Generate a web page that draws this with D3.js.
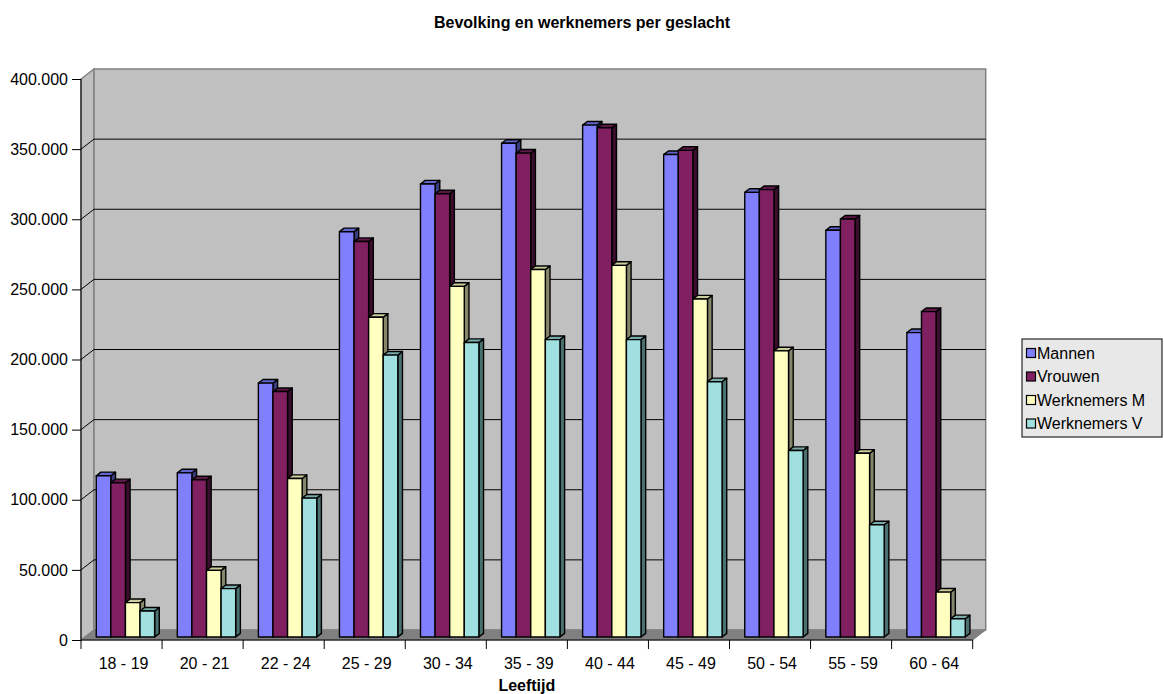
<!DOCTYPE html>
<html>
<head>
<meta charset="utf-8">
<script src="https://cdn.jsdelivr.net/npm/d3@7"></script>
<style>
html,body{margin:0;padding:0;background:#fff;}
svg{display:block;font-family:Arial,"Liberation Sans",sans-serif;}
</style>
</head>
<body>
<svg id="chart" width="1164" height="694"></svg>
<script>
const categories = ["18 - 19","20 - 21","22 - 24","25 - 29","30 - 34","35 - 39","40 - 44","45 - 49","50 - 54","55 - 59","60 - 64"];
const seriesNames = ["Mannen","Vrouwen","Werknemers M","Werknemers V"];
const mannen      = [115000,117000,181000,289000,323000,352000,365000,344000,317000,290000,217000];
const vrouwen     = [110000,112000,175000,282000,316000,345000,363000,347000,319000,298000,232000];
const werknemersM = [24500,47500,113000,228000,250000,262000,265000,241000,204000,131000,32000];
const werknemersV = [18500,34500,99000,201000,210000,212000,212000,182000,133000,80000,13000];
const yTicks = [0,50000,100000,150000,200000,250000,300000,350000,400000];
const chartTitle = "Bevolking en werknemers per geslacht";
const xTitle = "Leeftijd";

const seriesValues = [mannen, vrouwen, werknemersM, werknemersV];
const colors = [
  {front:"#8080ff", top:"#6066cc", side:"#3c3c80"},
  {front:"#802060", top:"#5e1848", side:"#3a0e2c"},
  {front:"#ffffc0", top:"#cccc9c", side:"#86866a"},
  {front:"#a0e0e0", top:"#78aaaa", side:"#4a7070"}
];

const svg = d3.select("#chart");
const nl = d3.formatLocale({decimal:",", thousands:".", grouping:[3], currency:["",""]});
const fmt = nl.format(",");

const x0 = d3.scaleBand().domain(categories).range([81, 972.7]).padding(0);
const y = d3.scaleLinear().domain([0, 400000]).range([640, 79]);
const DX = 13, DY = -10;
const P = (x, v, z) => [x + DX*z, y(v) + DY*z];
const poly = pts => "M" + pts.map(p => p.join(",")).join("L") + "Z";

const xL = x0.range()[0], xR = x0.range()[1];
const yMax = y.domain()[1];

// left side wall
svg.append("path").attr("d", poly([P(xL,0,0),P(xL,0,1),P(xL,yMax,1),P(xL,yMax,0)]))
  .attr("fill","#c0c0c0").attr("stroke","#808080").attr("stroke-width",1.5);
// back wall
svg.append("path").attr("d", poly([P(xL,0,1),P(xR,0,1),P(xR,yMax,1),P(xL,yMax,1)]))
  .attr("fill","#c0c0c0").attr("stroke","#808080").attr("stroke-width",1.5);
// floor
svg.append("path").attr("d", poly([P(xL,0,0),P(xR,0,0),P(xR,0,1),P(xL,0,1)]))
  .attr("fill","#808080").attr("stroke","#808080").attr("stroke-width",1);

// gridlines
yTicks.filter(t => t > 0 && t < yMax).forEach(t => {
  svg.append("path").attr("d", "M" + P(xL,t,0).join(",") + "L" + P(xL,t,1).join(",") + "L" + P(xR,t,1).join(","))
    .attr("fill","none").attr("stroke","#000").attr("stroke-width",1);
});

// bars
const gw = x0.bandwidth()*0.72;
const bw = gw/4;
const z0 = 0.3, z1 = 0.66;
categories.forEach((c, ci) => {
  const gx = x0(c) + (x0.bandwidth()-gw)/2;
  seriesValues.forEach((vals, si) => {
    const v = vals[ci];
    const xa = gx + si*bw, xb = xa + bw;
    const col = colors[si];
    const g = svg.append("g").attr("stroke","#000").attr("stroke-width",1.4).attr("stroke-linejoin","round");
    g.append("path").attr("d", poly([P(xb,0,z0),P(xb,0,z1),P(xb,v,z1),P(xb,v,z0)])).attr("fill",col.side);
    g.append("path").attr("d", poly([P(xa,v,z0),P(xb,v,z0),P(xb,v,z1),P(xa,v,z1)])).attr("fill",col.top);
    g.append("path").attr("d", poly([P(xa,0,z0),P(xb,0,z0),P(xb,v,z0),P(xa,v,z0)])).attr("fill",col.front);
  });
});

// y axis
const yAxis = d3.axisLeft(y).tickValues(yTicks).tickFormat(fmt).tickSize(9).tickPadding(4);
const ya = svg.append("g").attr("transform","translate(" + xL + ",0)").call(yAxis);
ya.select(".domain").attr("stroke","#000").attr("d","M0," + y(yMax) + "V" + y(0));
ya.selectAll(".tick line").attr("stroke","#000");
ya.selectAll(".tick text").attr("font-size",16).attr("font-family","Arial, 'Liberation Sans', sans-serif").attr("fill","#000");

// x axis
const xAxis = d3.axisBottom(x0).tickSize(0).tickPadding(18);
const xa = svg.append("g").attr("transform","translate(0," + y(0) + ")").call(xAxis);
xa.select(".domain").attr("stroke","#000").attr("d","M" + xL + ",0H" + xR);
xa.selectAll(".tick text").attr("font-size",16).attr("font-family","Arial, 'Liberation Sans', sans-serif").attr("fill","#000").attr("dx",2);
const bounds = categories.map(c => x0(c)).concat([xR]);
xa.selectAll("line.bnd").data(bounds).enter().append("line").attr("class","bnd")
  .attr("x1",d=>d).attr("x2",d=>d).attr("y1",0).attr("y2",9).attr("stroke","#000");

// titles
svg.append("text").attr("x",582).attr("y",28).attr("text-anchor","middle")
  .attr("font-size",16).attr("font-weight","bold").text(chartTitle);
svg.append("text").attr("x",(xL+xR)/2).attr("y",691).attr("text-anchor","middle")
  .attr("font-size",16).attr("font-weight","bold").text(xTitle);

// legend
const lg = svg.append("g").attr("transform","translate(1022,339)");
lg.append("rect").attr("x",0).attr("y",0).attr("width",140).attr("height",98)
  .attr("fill","#e8e8e8").attr("stroke","#000").attr("stroke-width",1);
seriesNames.forEach((n, i) => {
  const yy = 14 + i*23.5;
  lg.append("rect").attr("x",4.5).attr("y",yy-4.5).attr("width",9).attr("height",9)
    .attr("fill",colors[i].front).attr("stroke","#000").attr("stroke-width",1.2);
  lg.append("text").attr("x",15).attr("y",yy+5.5).attr("font-size",16).text(n);
});
</script>
</body>
</html>
